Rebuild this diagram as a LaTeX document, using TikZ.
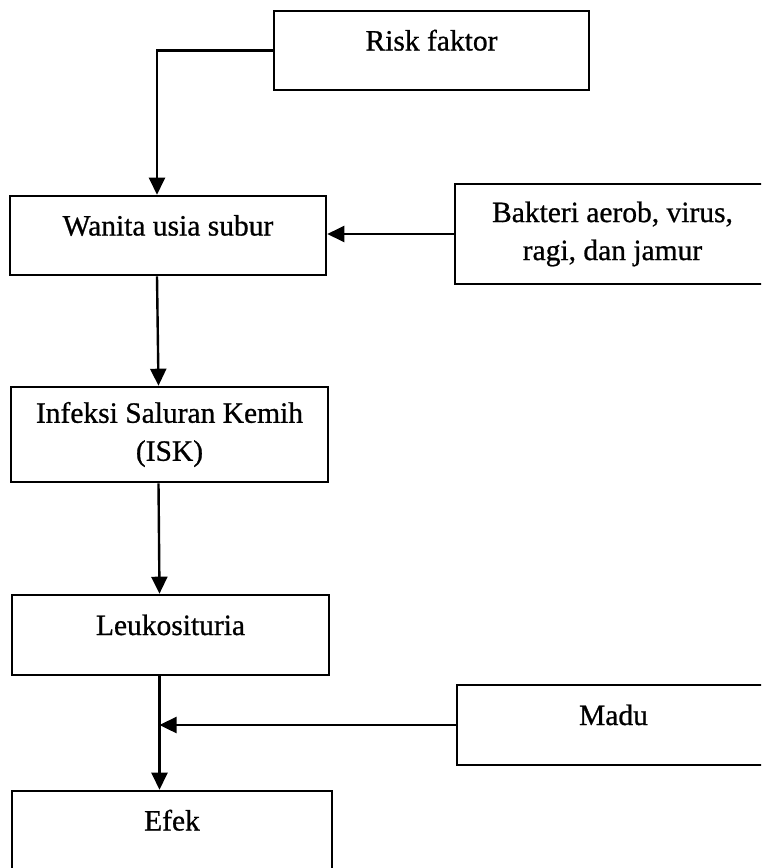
\documentclass[tikz,border=0pt]{standalone}
\usepackage{fontspec}
\setmainfont{Liberation Serif}[FakeBold=0.8]
\usetikzlibrary{arrows.meta}

\begin{document}
\begin{tikzpicture}[x=1pt,y=-1pt,
  kotak/.style={draw,line width=2.6pt,inner sep=0pt,align=center,font=\fontsize{29.5}{38}\selectfont},
  satu/.style={kotak,text height=20pt,text depth=20pt},
  panah/.style={line width=2.4pt,-{Triangle[length=17pt,width=16pt]}}]
  \useasboundingbox (0,0) rectangle (761,868);
  \clip (0,0) rectangle (761,868);
  \node[satu,minimum width=315pt,minimum height=79pt] (risk) at (431.5,50.5) {Risk faktor};
  \node[satu,minimum width=316pt,minimum height=79pt] (wanita) at (168,235.5) {Wanita usia subur};
  \node[kotak,minimum width=315pt,minimum height=100pt] (bakteri) at (612.5,234) {Bakteri aerob, virus,\\ragi, dan jamur};
  \node[kotak,minimum width=317pt,minimum height=95pt] (isk) at (169.5,434.5) {Infeksi Saluran Kemih\\(ISK)};
  \node[satu,minimum width=317pt,minimum height=80pt] (leuko) at (170.5,635) {Leukosituria};
  \node[satu,minimum width=313pt,minimum height=80pt] (madu) at (613.5,725) {Madu};
  \node[satu,minimum width=320pt,minimum height=79pt] (efek) at (172,830.5) {Efek};
  \coordinate (lk) at ([xshift=-11pt]leuko.south);
  \draw[panah] (risk.west) -| ([xshift=-11pt]wanita.north);
  \draw[panah] (bakteri.west) -- (bakteri.west -| wanita.east);
  \draw[panah] ([xshift=-11pt]wanita.south) -- ([xshift=-11pt]isk.north);
  \draw[panah] ([xshift=-11pt]isk.south) -- ([xshift=-11pt]leuko.north);
  \draw[panah] (lk) -- (lk |- efek.north);
  \draw[panah] (madu.west) -- (madu.west -| lk);
\end{tikzpicture}
\end{document}
